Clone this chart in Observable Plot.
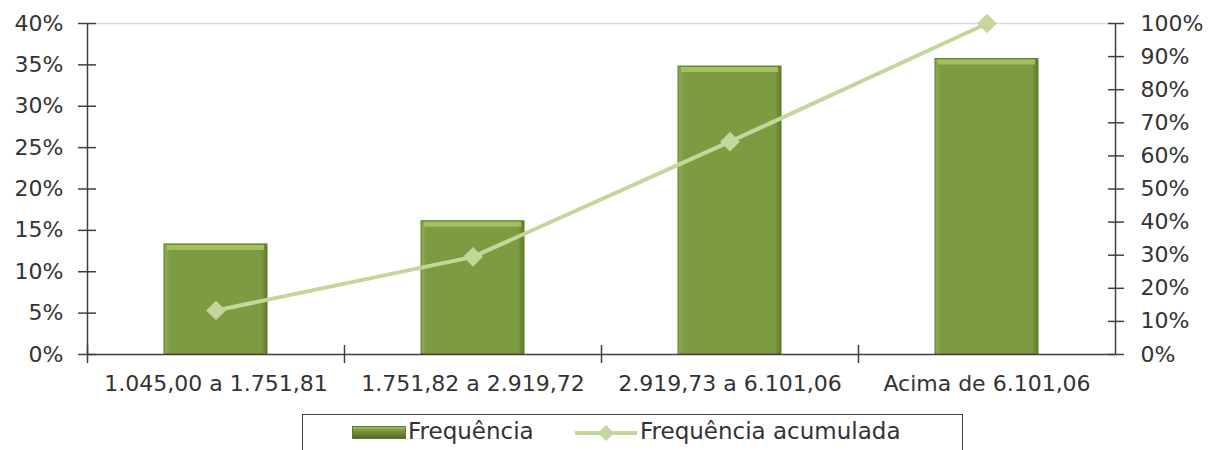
<!DOCTYPE html>
<html>
<head>
<meta charset="utf-8">
<script src="https://cdn.jsdelivr.net/npm/d3@7"></script>
<script src="https://cdn.jsdelivr.net/npm/@observablehq/plot@0.6"></script>
<style>
  body { margin: 0; background: #fff; font-family: "DejaVu Sans", sans-serif; color: #333; }
  #chart { position: relative; width: 1218px; height: 450px; overflow: hidden; }
  #legend { position: absolute; left: 302px; top: 414px; width: 659px; height: 40px; border: 1px solid #404040; background: #fff; }
  .item { position: absolute; top: 2px; font-size: 23px; line-height: 28px; color: #333; }
</style>
</head>
<body>
<div id="chart"></div>
<script>
const categories = ["1.045,00 a 1.751,81", "1.751,82 a 2.919,72", "2.919,73 a 6.101,06", "Acima de 6.101,06"];
const frequencia = [0.133, 0.161, 0.348, 0.357];
const acumulada = [0.133, 0.295, 0.643, 1.0];
const leftTicks = [0, 0.05, 0.10, 0.15, 0.20, 0.25, 0.30, 0.35, 0.40];
const rightTicks = [0, 0.1, 0.2, 0.3, 0.4, 0.5, 0.6, 0.7, 0.8, 0.9, 1.0];

const W = 1218, H = 410, mL = 87, mR = 103, mT = 23, mB = 56;
const step = (W - mL - mR) / categories.length;
const yMax = 0.4;
const rows = categories.map((c, i) => ({c, f: frequencia[i], a: acumulada[i] * yMax}));
const axisColor = "#404040";
const font = "DejaVu Sans, sans-serif";

const plot = Plot.plot({
  width: W, height: H,
  marginLeft: mL, marginRight: mR, marginTop: mT, marginBottom: mB,
  style: {fontFamily: font, fontSize: "22px", color: "#333", background: "#fff"},
  x: {domain: categories, paddingInner: 0.6, paddingOuter: 0.3, axis: null},
  y: {domain: [0, yMax], axis: null},
  marks: [
    Plot.ruleY([yMax], {stroke: "#d9d9d9", strokeWidth: 1.5}),
    Plot.barY(rows, {x: "c", y: "f", fill: "url(#barGrad)", stroke: "#5c7a28", strokeWidth: 1}),
    Plot.tickY(rows, {x: "c", y: "f", dy: 3, insetLeft: 3, insetRight: 3, stroke: "#a2bf62", strokeWidth: 5}),
    Plot.line(rows, {x: "c", y: "a", stroke: "#c4d79b", strokeWidth: 4}),
    Plot.dot(rows, {x: "c", y: "a", symbol: "square", rotate: 45, r: 7, fill: "#c4d79b", stroke: "#c4d79b"}),
    // axis lines
    Plot.ruleY([0], {stroke: axisColor, strokeWidth: 1.5}),
    Plot.ruleX([categories[0]], {dx: -step / 2, stroke: axisColor, strokeWidth: 1.5}),
    Plot.ruleX([categories[categories.length - 1]], {dx: step / 2, stroke: axisColor, strokeWidth: 1.5}),
    // left axis
    Plot.axisY({anchor: "left", ticks: leftTicks, text: null, label: null, tickSize: 18, dx: 9, stroke: axisColor, strokeWidth: 1.5}),
    Plot.axisY({anchor: "left", ticks: leftTicks, label: null, tickSize: 0, tickPadding: 24, tickFormat: d => Math.round(d * 100) + "%", fill: "#333", fontSize: 22}),
    // right axis
    Plot.axisY({anchor: "right", ticks: rightTicks.map(t => t * yMax), text: null, label: null, tickSize: 16, dx: -8, stroke: axisColor, strokeWidth: 1.5}),
    Plot.axisY({anchor: "right", ticks: rightTicks.map(t => t * yMax), label: null, tickSize: 0, tickPadding: 25, tickFormat: d => Math.round(d / yMax * 100) + "%", fill: "#333", fontSize: 22}),
    // x axis
    Plot.axisX({ticks: categories, text: null, label: null, tickSize: 18, dy: -9, dx: -step / 2, stroke: axisColor, strokeWidth: 1.5}),
    Plot.axisX({ticks: categories, label: null, tickSize: 0, tickPadding: 21, fill: "#333", fontSize: 22})
  ]
});

const svgNS = "http://www.w3.org/2000/svg";
function addDefs(svg) {
  const defs = document.createElementNS(svgNS, "defs");
  defs.innerHTML = `
    <linearGradient id="barGrad" x1="0" x2="1" y1="0" y2="0">
      <stop offset="0" stop-color="#8fae52"/>
      <stop offset="0.06" stop-color="#7d9b40"/>
      <stop offset="0.94" stop-color="#7d9b40"/>
      <stop offset="1" stop-color="#5f7d2b"/>
    </linearGradient>`;
  svg.insertBefore(defs, svg.firstChild);
}
addDefs(plot);
const chart = document.getElementById("chart");
chart.appendChild(plot);

const legend = document.createElement("div");
legend.id = "legend";
legend.innerHTML = `
  <svg style="position:absolute;left:49px;top:11px" width="54" height="14">
    <defs><linearGradient id="lg1" x1="0" x2="0" y1="0" y2="1">
      <stop offset="0" stop-color="#a9c66e"/><stop offset="0.3" stop-color="#7d9b40"/><stop offset="1" stop-color="#4f6a22"/>
    </linearGradient></defs>
    <rect x="0.5" y="0.5" width="53" height="12" fill="url(#lg1)" stroke="#5c7a28"/>
  </svg>
  <div class="item" style="left:105px">Frequência</div>
  <svg style="position:absolute;left:272px;top:7px" width="62" height="22">
    <line x1="0" y1="11" x2="62" y2="11" stroke="#c4d79b" stroke-width="4"/>
    <path d="M31,3 L39,11 L31,19 L23,11 Z" fill="#c4d79b"/>
  </svg>
  <div class="item" style="left:337px">Frequência acumulada</div>`;
chart.appendChild(legend);
</script>
</body>
</html>
